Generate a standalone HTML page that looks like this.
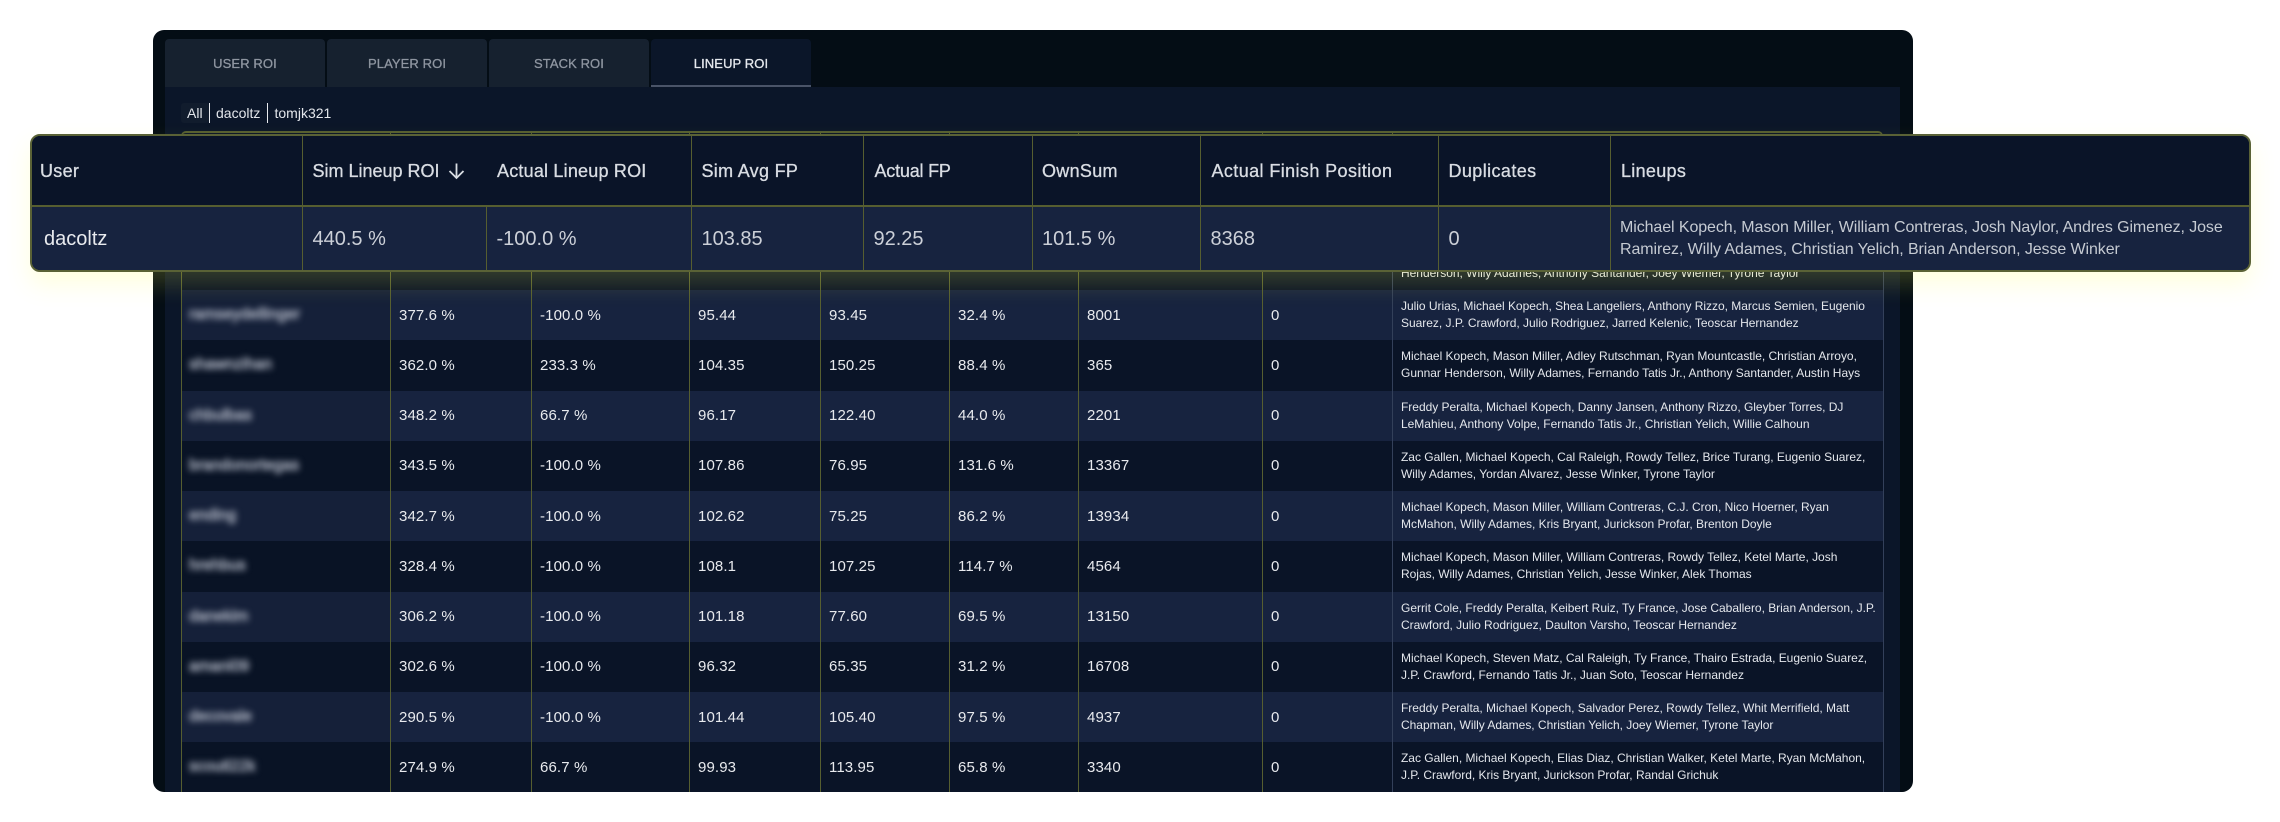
<!DOCTYPE html>
<html lang="en"><head><meta charset="utf-8"><title>Lineup ROI</title>
<style>
*{box-sizing:border-box}
html,body{margin:0;padding:0;width:2280px;height:822px;overflow:hidden;background:#fff;font-family:"Liberation Sans",sans-serif}
.panel{position:absolute;left:153px;top:30px;width:1760px;height:762px;background:#040d15;border-radius:11px;overflow:hidden}
.content{position:absolute;left:12px;top:57px;width:1735px;height:705px;background:#0b1629}
.tab{position:absolute;top:9px;height:48px;background:#16212f;color:#8f96a1;font-size:13px;letter-spacing:.1px;-webkit-text-stroke:.3px;display:flex;align-items:center;justify-content:center;border-radius:4px 4px 0 0}
.tab.active{background:#0b1629;color:#e6e9ee;border-bottom:2px solid #4a5468;padding-top:2px}
.filter{position:absolute;top:73px;height:20px;color:#e3e6eb;font-size:14px;line-height:20px;white-space:nowrap}
.sep{position:absolute;top:73px;width:1px;height:20px;background:#e8eaee}
.bgtop{position:absolute;left:28px;top:101px;width:1702px;height:108.75px;border:solid #565e30;border-width:2px 1px 0 1px;border-radius:5px 5px 0 0;background:#0a1427}
.bgtop i{position:absolute;top:0;bottom:0;width:1px;background:#565e30}
.row{position:absolute;left:28px;width:1703px;height:50.25px;display:grid;grid-template-columns:209px 141px 158px 131px 129px 129px 184px 130px 492px}
.row.l{background:#17233f}.row.d{background:#0a1427}
.row>div{border-left:1px solid #565e30;padding-left:8px;display:flex;align-items:center;color:#e8eaee;font-size:15px;letter-spacing:.12px;white-space:nowrap;overflow:hidden}
.row>div.name{padding-left:7px}
.row.l>div.name{background:#152039}.row.d>div.name{background:#091325}
.name span{color:#aab0be;filter:blur(3.2px);font-size:15.5px;-webkit-text-stroke:.8px #aab0be}
.row>div.lu{border-left-color:#33405a;border-right:1px solid #33405a;padding-left:8px;font-size:12px;line-height:17px;color:#e4e7ec;letter-spacing:-.02px}
.float{position:absolute;left:30px;top:134px;width:2221px;height:138px;border:2px solid #5a6236;border-radius:10px;background:#0a1428;box-shadow:0 12px 24px rgba(255,255,70,.18);z-index:5;overflow:visible}
.frow{display:grid;grid-template-columns:270px 184px 205px 172px 168.5px 168.5px 238px 171.5px 640px}
.frow.h{height:71px;border-bottom:2px solid #565e30;background:#0a1428;border-radius:8px 8px 0 0}
.frow.b{height:63px;background:#17233f;border-radius:0 0 8px 8px}
.frow>div{border-left:1.5px solid #565e30;padding-left:9.5px;display:flex;align-items:center;white-space:nowrap}
.frow>div:first-child{border-left:0;padding-left:8px}
.frow.h>div{color:#d9dde3;font-size:18px;letter-spacing:.3px;-webkit-text-stroke:.3px;padding-top:1px}
.frow.h>div.nb{border-left:0;padding-left:11px}
.frow.b>div{color:#ccd0d8;font-size:20px;padding-top:1px}
.frow.b>div:first-child{padding-left:12px;color:#e8eaee}
.frow.b>div.lu{font-size:16px;line-height:22px;color:#c5cad2;letter-spacing:-.09px;padding-top:0}
</style></head>
<body>
<div class="panel">
  <div class="tab" style="left:12px;width:160px">USER ROI</div>
  <div class="tab" style="left:174px;width:160px">PLAYER ROI</div>
  <div class="tab" style="left:336px;width:160px">STACK ROI</div>
  <div class="tab active" style="left:498px;width:160px">LINEUP ROI</div>
  <div class="content"></div>
  <div class="filter" style="left:28px;width:28px;background:#111c2d;border-radius:3px;padding-left:6px">All</div>
  <div class="sep" style="left:56px"></div>
  <div class="filter" style="left:63px">dacoltz</div>
  <div class="sep" style="left:114px"></div>
  <div class="filter" style="left:121.5px">tomjk321</div>

  <div class="bgtop">
    <i style="left:208px"></i><i style="left:349px"></i><i style="left:507px"></i><i style="left:638px"></i><i style="left:767px"></i><i style="left:896px"></i><i style="left:1080px"></i><i style="left:1210px"></i>
  </div>

  <div class="row d" style="top:209.75px"><div class="name"></div><div></div><div></div><div></div><div></div><div></div><div></div><div></div><div class="lu"><p style="margin:0"><br>Henderson, Willy Adames, Anthony Santander, Joey Wiemer, Tyrone Taylor</p></div></div>

  <div class="row l" style="top:260px"><div class="name"><span>ramseydellinger</span></div><div>377.6 %</div><div>-100.0 %</div><div>95.44</div><div>93.45</div><div>32.4 %</div><div>8001</div><div>0</div><div class="lu"><p style="margin:0">Julio Urias, Michael Kopech, Shea Langeliers, Anthony Rizzo, Marcus Semien, Eugenio<br>Suarez, J.P. Crawford, Julio Rodriguez, Jarred Kelenic, Teoscar Hernandez</p></div></div>

  <div class="row d" style="top:310.25px"><div class="name"><span>shawnzihan</span></div><div>362.0 %</div><div>233.3 %</div><div>104.35</div><div>150.25</div><div>88.4 %</div><div>365</div><div>0</div><div class="lu"><p style="margin:0">Michael Kopech, Mason Miller, Adley Rutschman, Ryan Mountcastle, Christian Arroyo,<br>Gunnar Henderson, Willy Adames, Fernando Tatis Jr., Anthony Santander, Austin Hays</p></div></div>

  <div class="row l" style="top:360.5px"><div class="name"><span>chbulbas</span></div><div>348.2 %</div><div>66.7 %</div><div>96.17</div><div>122.40</div><div>44.0 %</div><div>2201</div><div>0</div><div class="lu"><p style="margin:0">Freddy Peralta, Michael Kopech, Danny Jansen, Anthony Rizzo, Gleyber Torres, DJ<br>LeMahieu, Anthony Volpe, Fernando Tatis Jr., Christian Yelich, Willie Calhoun</p></div></div>

  <div class="row d" style="top:410.75px"><div class="name"><span>brandonortegas</span></div><div>343.5 %</div><div>-100.0 %</div><div>107.86</div><div>76.95</div><div>131.6 %</div><div>13367</div><div>0</div><div class="lu"><p style="margin:0">Zac Gallen, Michael Kopech, Cal Raleigh, Rowdy Tellez, Brice Turang, Eugenio Suarez,<br>Willy Adames, Yordan Alvarez, Jesse Winker, Tyrone Taylor</p></div></div>

  <div class="row l" style="top:461px"><div class="name"><span>ending</span></div><div>342.7 %</div><div>-100.0 %</div><div>102.62</div><div>75.25</div><div>86.2 %</div><div>13934</div><div>0</div><div class="lu"><p style="margin:0">Michael Kopech, Mason Miller, William Contreras, C.J. Cron, Nico Hoerner, Ryan<br>McMahon, Willy Adames, Kris Bryant, Jurickson Profar, Brenton Doyle</p></div></div>

  <div class="row d" style="top:511.25px"><div class="name"><span>hrehbus</span></div><div>328.4 %</div><div>-100.0 %</div><div>108.1</div><div>107.25</div><div>114.7 %</div><div>4564</div><div>0</div><div class="lu"><p style="margin:0">Michael Kopech, Mason Miller, William Contreras, Rowdy Tellez, Ketel Marte, Josh<br>Rojas, Willy Adames, Christian Yelich, Jesse Winker, Alek Thomas</p></div></div>

  <div class="row l" style="top:561.5px"><div class="name"><span>danekim</span></div><div>306.2 %</div><div>-100.0 %</div><div>101.18</div><div>77.60</div><div>69.5 %</div><div>13150</div><div>0</div><div class="lu"><p style="margin:0">Gerrit Cole, Freddy Peralta, Keibert Ruiz, Ty France, Jose Caballero, Brian Anderson, J.P.<br>Crawford, Julio Rodriguez, Daulton Varsho, Teoscar Hernandez</p></div></div>

  <div class="row d" style="top:611.75px"><div class="name"><span>amani09</span></div><div>302.6 %</div><div>-100.0 %</div><div>96.32</div><div>65.35</div><div>31.2 %</div><div>16708</div><div>0</div><div class="lu"><p style="margin:0">Michael Kopech, Steven Matz, Cal Raleigh, Ty France, Thairo Estrada, Eugenio Suarez,<br>J.P. Crawford, Fernando Tatis Jr., Juan Soto, Teoscar Hernandez</p></div></div>

  <div class="row l" style="top:662px"><div class="name"><span>decovale</span></div><div>290.5 %</div><div>-100.0 %</div><div>101.44</div><div>105.40</div><div>97.5 %</div><div>4937</div><div>0</div><div class="lu"><p style="margin:0">Freddy Peralta, Michael Kopech, Salvador Perez, Rowdy Tellez, Whit Merrifield, Matt<br>Chapman, Willy Adames, Christian Yelich, Joey Wiemer, Tyrone Taylor</p></div></div>

  <div class="row d" style="top:712.25px"><div class="name"><span>scoutl22k</span></div><div>274.9 %</div><div>66.7 %</div><div>99.93</div><div>113.95</div><div>65.8 %</div><div>3340</div><div>0</div><div class="lu"><p style="margin:0">Zac Gallen, Michael Kopech, Elias Diaz, Christian Walker, Ketel Marte, Ryan McMahon,<br>J.P. Crawford, Kris Bryant, Jurickson Profar, Randal Grichuk</p></div></div>
</div>

<div class="float">
  <div class="frow h">
    <div>User</div>
    <div style="letter-spacing:0">Sim Lineup ROI<svg width="17" height="18" viewBox="0 0 17 18" style="margin-left:8px"><path d="M8.5 1.5V16M1.5 9l7 7 7-7" fill="none" stroke="#d9dde3" stroke-width="1.8"/></svg></div>
    <div class="nb" style="letter-spacing:.2px">Actual Lineup ROI</div>
    <div>Sim Avg FP</div>
    <div style="letter-spacing:-.2px;padding-left:10.5px">Actual FP</div>
    <div>OwnSum</div>
    <div style="letter-spacing:.4px;padding-left:10.5px">Actual Finish Position</div>
    <div style="letter-spacing:.4px">Duplicates</div>
    <div style="padding-left:10.5px">Lineups</div>
  </div>
  <div class="frow b">
    <div>dacoltz</div>
    <div>440.5 %</div>
    <div>-100.0 %</div>
    <div>103.85</div>
    <div>92.25</div>
    <div>101.5 %</div>
    <div>8368</div>
    <div>0</div>
    <div class="lu"><p style="margin:0">Michael Kopech, Mason Miller, William Contreras, Josh Naylor, Andres Gimenez, Jose<br>Ramirez, Willy Adames, Christian Yelich, Brian Anderson, Jesse Winker</p></div>
  </div>
</div>
</body></html>
